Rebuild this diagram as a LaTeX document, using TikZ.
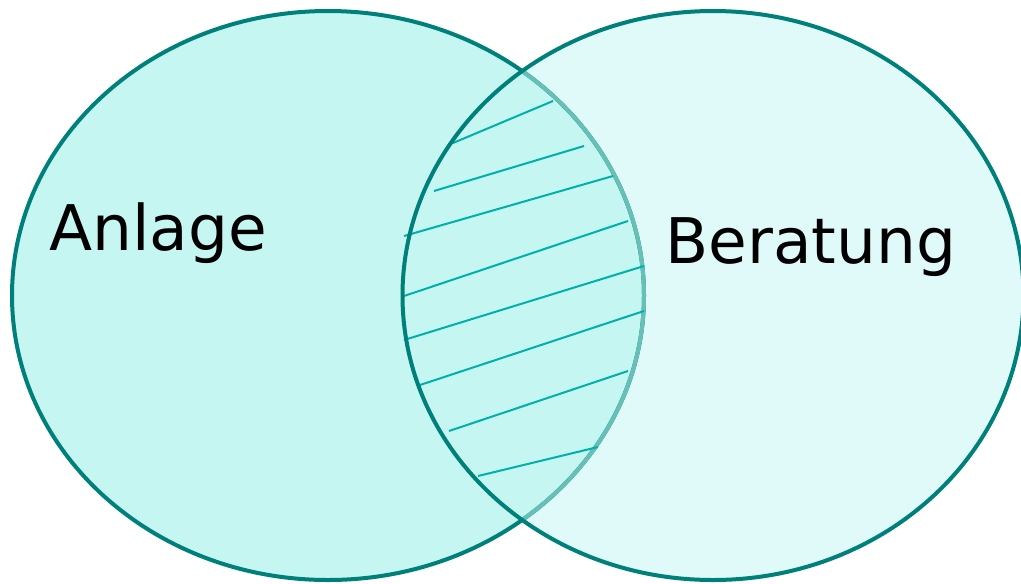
\documentclass[tikz,border=0pt]{standalone}
\usepackage{fontspec}
\setmainfont{DejaVu Sans}
\definecolor{leftfill}{RGB}{197,246,241}
\definecolor{rightfill}{RGB}{224,250,250}
\definecolor{darkteal}{RGB}{0,128,122}
\definecolor{lightteal}{RGB}{102,192,184}
\definecolor{hatchteal}{RGB}{0,176,170}
\tikzset{
  outline/.style={line width=3pt},
  hatchline/.style={draw=hatchteal, line width=1.5pt},
  label/.style={font=\fontsize{47.2}{50}\selectfont, text=black, inner sep=0pt, anchor=base west}
}
\begin{document}
\begin{tikzpicture}[x=0.75pt,y=-0.75pt]
\useasboundingbox (0,0) rectangle (1021,583);
\coordinate (lc) at (328,295.5);
\coordinate (rc) at (713,295.5);
% fills
\fill[rightfill] (rc) ellipse [x radius=310.5, y radius=284.5];
\fill[leftfill] (lc) ellipse [x radius=316, y radius=284.5];
% left outline
\draw[outline, darkteal] (lc) ellipse [x radius=316, y radius=284.5];
\begin{scope}
  \clip (rc) ellipse [x radius=310.5, y radius=284.5];
  \draw[outline, lightteal] (lc) ellipse [x radius=316, y radius=284.5];
\end{scope}
% hatching
\draw[hatchline] (453,143) -- (553,101);
\draw[hatchline] (434,191) -- (584,146);
\draw[hatchline] (404,236) -- (613,176);
\draw[hatchline] (404,296) -- (628,221);
\draw[hatchline] (404,340) -- (644,266);
\draw[hatchline] (420,385) -- (644,311);
\draw[hatchline] (449,431) -- (628,371);
\draw[hatchline] (478,476) -- (598,447);
% right outline
\draw[outline, darkteal] (rc) ellipse [x radius=310.5, y radius=284.5];
% labels
\node[label] (anlage) at (49,250) {Anlage};
\node[label] (beratung) at (665,263) {Beratung};
\end{tikzpicture}
\end{document}
